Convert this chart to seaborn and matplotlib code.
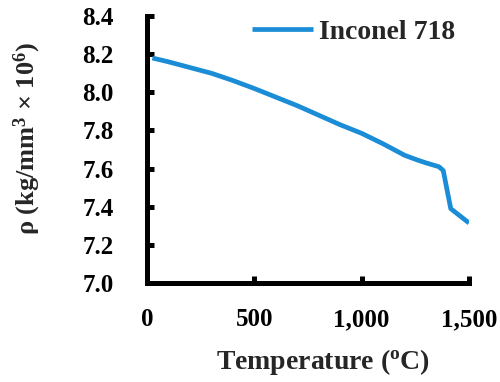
import matplotlib
matplotlib.use("Agg")
import matplotlib.pyplot as plt
from matplotlib.ticker import FuncFormatter
import seaborn as sns
import pandas as pd

temperature = [25, 100, 200, 300, 400, 500, 600, 700, 800, 900, 1000, 1100, 1200, 1260, 1300, 1360, 1380, 1415, 1500]
density = [8.18, 8.16, 8.13, 8.10, 8.062, 8.02, 7.975, 7.93, 7.88, 7.83, 7.785, 7.73, 7.67, 7.645, 7.63, 7.61, 7.59, 7.39, 7.315]
series_name = "Inconel 718"
x_ticks = [0, 500, 1000, 1500]
y_ticks = [7.0, 7.2, 7.4, 7.6, 7.8, 8.0, 8.2, 8.4]

df = pd.DataFrame({"T": temperature, "rho": density, "series": series_name})

sns.set_theme(style="white")
plt.rcParams["font.family"] = ["Liberation Serif", "DejaVu Serif"]
plt.rcParams["font.weight"] = "bold"
plt.rcParams["mathtext.fontset"] = "custom"
plt.rcParams["mathtext.rm"] = "Liberation Serif:bold"
plt.rcParams["mathtext.it"] = "Liberation Serif:bold"
plt.rcParams["mathtext.bf"] = "Liberation Serif:bold"

fig = plt.figure(figsize=(5.0, 3.82), dpi=100)
ax = fig.add_axes([0.294, 0.259, 0.644, 0.699])

sns.lineplot(data=df, x="T", y="rho", hue="series", palette=["#1B8DD6"],
             linewidth=3.4, ax=ax, legend=True)
for ln in ax.lines:
    ln.set_solid_joinstyle("round")
    ln.set_solid_capstyle("butt")

ax.set_xlim(0, 1500)
ax.set_ylim(7.0, 8.4)
ax.set_xticks(x_ticks)
ax.set_yticks(y_ticks)
ax.xaxis.set_major_formatter(FuncFormatter(lambda v, p: f"{v:,.0f}"))
ax.yaxis.set_major_formatter(FuncFormatter(lambda v, p: f"{v:.1f}"))

for side in ["top", "right"]:
    ax.spines[side].set_visible(False)
for side in ["left", "bottom"]:
    ax.spines[side].set_linewidth(3.6)
    ax.spines[side].set_color("black")

ax.tick_params(axis="y", direction="in", length=5, width=3.6, pad=24,
               labelsize=18, colors="black", left=True)
ax.tick_params(axis="x", direction="in", length=5, width=3.6, pad=18,
               labelsize=18, colors="black", bottom=True)
for lab in ax.get_xticklabels() + ax.get_yticklabels():
    lab.set_fontweight("bold")

ax.set_xlabel(r"Temperature ($\mathregular{^{o}}$C)", fontsize=20, fontweight="bold",
              va="center")
ax.xaxis.set_label_coords(0.547, -0.296)
ax.set_ylabel(r"ρ (kg/mm$\mathregular{^{3}}$ × 10$\mathregular{^{6}}$)", fontsize=19,
              fontweight="bold", va="center")
ax.yaxis.set_label_coords(-0.373, 0.543)

leg = ax.legend(loc="upper right", bbox_to_anchor=(1.033, 1.08), frameon=False,
                handlelength=2.2, handletextpad=0.2,
                prop={"weight": "bold", "size": 20})
leg.set_title(None)

fig.savefig("out.png", dpi=100)
